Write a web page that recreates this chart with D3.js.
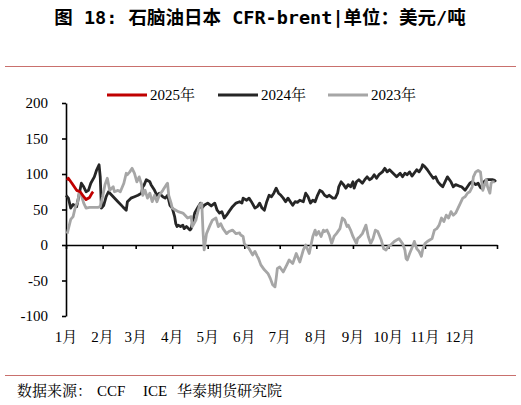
<!DOCTYPE html>
<html>
<head>
<meta charset="utf-8">
<script src="https://cdn.jsdelivr.net/npm/d3@7"></script>
<style>
  body { margin: 0; background: #fff; }
  svg { display: block; }
</style>
</head>
<body>
<div id="chart-area"></div>
<script>
// chart values (month-day, value)
var seriesNames = ["2025年", "2024年", "2023年"];
var seriesColors = ["#c00000", "#262626", "#a6a6a6"];
var monthLabels = ["1月","2月","3月","4月","5月","6月","7月","8月","9月","10月","11月","12月"];
var yTicks = [-100, -50, 0, 50, 100, 150, 200];

var s2025 = [["01-02",91],["01-03",94],["01-06",87],["01-08",82],["01-10",77],["01-13",75],
  ["01-16",68],["01-18",64],["01-21",67],["01-23",73],["01-24",75]];

var s2024 = [["01-01",70],["01-03",66],["01-05",52],["01-07",57],["01-10",54],["01-12",70],
  ["01-14",87],["01-16",82],["01-18",75],["01-20",77],["01-22",87],["01-25",96],["01-27",106],
  ["01-29",113],["01-30",96],["01-31",52],["02-02",56],["02-04",68],["02-06",75],["02-10",68],
  ["02-14",61],["02-18",54],["02-21",49],["02-22",61],["02-25",66],["02-28",68],["03-03",70],
  ["03-06",73],["03-07",82],["03-08",84],["03-10",92],["03-13",89],["03-14",85],["03-17",77],
  ["03-19",70],["03-21",73],["03-24",68],["03-26",66],["03-28",70],["03-30",56],["04-01",52],
  ["04-03",40],["04-04",30],["04-05",26],["04-06",28],["04-08",26],["04-10",28],["04-11",23],
  ["04-13",26],["04-16",21],["04-17",23],["04-18",31],["04-20",45],["04-23",54],["04-25",59],
  ["04-26",52],["04-28",56],["05-01",59],["05-04",55],["05-07",59],["05-09",49],["05-11",45],
  ["05-13",47],["05-15",38],["05-17",42],["05-19",47],["05-22",54],["05-25",59],["05-28",61],
  ["05-30",59],["05-31",66],["06-03",63],["06-05",66],["06-07",61],["06-10",52],["06-12",54],
  ["06-14",59],["06-16",52],["06-18",49],["06-20",61],["06-22",70],["06-24",68],["06-26",73],
  ["06-28",80],["06-30",73],["07-02",70],["07-04",66],["07-06",61],["07-08",66],["07-10",61],
  ["07-12",56],["07-14",61],["07-16",60],["07-18",63],["07-21",61],["07-23",73],["07-25",68],
  ["07-27",59],["07-29",63],["07-31",61],["08-02",70],["08-04",77],["08-06",75],["08-08",70],
  ["08-10",68],["08-12",70],["08-15",66],["08-17",66],["08-19",73],["08-20",82],["08-22",89],
  ["08-24",85],["08-26",80],["08-28",85],["08-30",82],["09-01",89],["09-02",80],["09-04",89],
  ["09-06",92],["09-09",87],["09-11",92],["09-13",96],["09-15",92],["09-17",94],["09-19",99],
  ["09-21",94],["09-23",99],["09-26",103],["09-28",108],["09-30",103],["10-02",106],["10-05",101],
  ["10-08",96],["10-11",101],["10-13",96],["10-15",101],["10-17",99],["10-19",103],["10-21",97],
  ["10-25",106],["10-27",103],["10-29",108],["10-30",113],["11-01",110],["11-03",106],["11-05",101],
  ["11-08",94],["11-10",96],["11-12",89],["11-14",85],["11-16",82],["11-18",89],["11-20",96],
  ["11-23",89],["11-25",82],["11-27",85],["11-30",83],["12-02",82],["12-05",77],["12-07",82],
  ["12-09",87],["12-11",89],["12-14",85],["12-16",87],["12-18",81],["12-19",80],["12-21",89],
  ["12-23",92],["12-26",92],["12-28",92],["12-30",91],["12-31",89]];

var s2023 = [["01-02",16],["01-05",36],["01-07",40],["01-09",54],["01-11",61],["01-12",73],
  ["01-14",70],["01-16",59],["01-18",52],["01-21",53],["01-24",53],["01-28",53],["01-30",54],
  ["02-01",68],["02-03",85],["02-05",94],["02-07",77],["02-10",82],["02-11",75],["02-14",77],
  ["02-16",75],["02-19",87],["02-21",101],["02-22",99],["02-24",103],["02-26",108],["02-28",101],
  ["03-02",89],["03-04",96],["03-06",85],["03-07",70],["03-09",77],["03-11",66],["03-13",73],
  ["03-15",61],["03-17",70],["03-19",61],["03-21",70],["03-24",77],["03-27",85],["03-28",87],
  ["03-29",70],["03-31",59],["04-01",52],["04-04",49],["04-06",47],["04-10",45],["04-14",38],
  ["04-17",40],["04-18",26],["04-21",35],["04-24",56],["04-26",59],["04-27",20],["04-28",-7],
  ["04-30",16],["05-03",28],["05-05",35],["05-08",38],["05-10",26],["05-12",30],["05-14",23],
  ["05-17",16],["05-19",19],["05-22",21],["05-25",16],["05-28",17],["05-29",14],["05-31",12],
  ["06-01",2],["06-03",-2],["06-05",-5],["06-08",-14],["06-10",-9],["06-12",-16],["06-13",-19],
  ["06-15",-28],["06-18",-35],["06-21",-40],["06-23",-47],["06-25",-56],["06-27",-59],["06-28",-47],
  ["06-29",-33],["07-01",-31],["07-04",-38],["07-07",-28],["07-09",-21],["07-12",-26],["07-15",-12],
  ["07-18",-24],["07-21",-7],["07-23",0],["07-26",-12],["07-29",12],["07-31",21],["08-01",14],
  ["08-03",19],["08-05",12],["08-07",21],["08-08",19],["08-10",21],["08-12",14],["08-14",2],
  ["08-16",12],["08-18",16],["08-21",23],["08-23",38],["08-25",35],["08-27",26],["08-28",28],
  ["08-30",21],["09-01",12],["09-04",2],["09-05",9],["09-07",12],["09-09",16],["09-12",28],
  ["09-14",12],["09-16",2],["09-18",9],["09-20",21],["09-22",19],["09-25",7],["09-27",-5],
  ["09-29",-7],["10-01",-2],["10-03",0],["10-06",5],["10-08",7],["10-10",9],["10-13",2],
  ["10-15",-7],["10-16",-19],["10-17",-21],["10-19",-12],["10-22",0],["10-23",5],["10-25",-5],
  ["10-27",-9],["10-29",-16],["10-30",-7],["11-01",2],["11-03",5],["11-05",7],["11-07",9],
  ["11-09",21],["11-11",23],["11-13",28],["11-15",38],["11-17",33],["11-19",42],["11-21",38],
  ["11-23",47],["11-25",42],["11-27",45],["11-29",52],["12-01",59],["12-03",66],["12-05",68],
  ["12-07",73],["12-09",75],["12-11",82],["12-12",96],["12-14",103],["12-16",105],["12-18",103],
  ["12-19",89],["12-20",77],["12-21",82],["12-23",92],["12-24",82],["12-26",73],["12-27",87],
  ["12-28",89],["12-30",89]];

var width = 521, height = 405;
var plot = {left: 66, right: 497, top: 103, bottom: 316};
var serif = "'Liberation Serif','Noto Serif CJK SC','Noto Sans CJK SC',serif";

var svg = d3.select("#chart-area")
  .append("svg")
  .attr("width", width)
  .attr("height", height);

// title and separator lines
svg.append("text")
  .attr("x", 260)
  .attr("y", 24)
  .attr("text-anchor", "middle")
  .attr("font-family", "'DejaVu Sans Mono','Noto Sans CJK SC',sans-serif")
  .attr("font-weight", "bold")
  .attr("font-size", "18.5px")
  .attr("fill", "#000")
  .text("图 18: 石脑油日本 CFR-brent|单位：美元/吨");

svg.append("line")
  .attr("x1", 5).attr("x2", 516)
  .attr("y1", 66.5).attr("y2", 66.5)
  .attr("stroke", "#c9706d").attr("stroke-width", 1.2);

svg.append("line")
  .attr("x1", 5).attr("x2", 516)
  .attr("y1", 375.5).attr("y2", 375.5)
  .attr("stroke", "#c9706d").attr("stroke-width", 1.2);

// source note
var src = svg.append("text")
  .attr("y", 396)
  .attr("font-family", serif)
  .attr("font-size", "15px")
  .attr("fill", "#000");
src.append("tspan").attr("x", 17).text("数据来源：");
src.append("tspan").attr("x", 97).text("CCF");
src.append("tspan").attr("x", 143).text("ICE");
src.append("tspan").attr("x", 177).text("华泰期货研究院");

// scales
var parseDay = d3.timeParse("%Y-%m-%d");
var x = d3.scaleTime()
  .domain([new Date(2023, 0, 1), new Date(2024, 0, 1)])
  .range([plot.left, plot.right]);

var y = d3.scaleLinear()
  .domain([-100, 200])
  .range([plot.bottom, plot.top]);

var monthStarts = d3.timeMonth.range(new Date(2023, 0, 1), new Date(2024, 0, 2));

// axes
var yAxis = d3.axisLeft(y)
  .tickValues(yTicks)
  .tickSize(4)
  .tickSizeOuter(0)
  .tickPadding(14)
  .tickFormat(function(d) { return d; });

var gy = svg.append("g")
  .attr("transform", "translate(" + plot.left + ",0)")
  .call(yAxis);
gy.selectAll("text")
  .attr("font-family", serif)
  .attr("font-size", "15px")
  .attr("fill", "#000");
gy.selectAll("line,path").attr("stroke", "#000").attr("stroke-width", 1.6);

var xAxis = d3.axisBottom(x)
  .tickValues(monthStarts)
  .tickSize(4)
  .tickSizeOuter(0)
  .tickFormat("");

var gx = svg.append("g")
  .attr("transform", "translate(0," + y(0) + ")")
  .call(xAxis);
gx.selectAll("line,path").attr("stroke", "#000").attr("stroke-width", 1.6);

svg.append("g")
  .selectAll("text")
  .data(monthLabels)
  .enter()
  .append("text")
  .attr("x", function(d, i) { return x(monthStarts[i]); })
  .attr("y", 342)
  .attr("text-anchor", "middle")
  .attr("font-family", serif)
  .attr("font-size", "15px")
  .attr("fill", "#000")
  .text(function(d) { return d; });

// lines
var line = d3.line()
  .x(function(d) { return x(parseDay("2023-" + d[0])); })
  .y(function(d) { return y(d[1]); });

var drawOrder = [[s2024, 1], [s2023, 2], [s2025, 0]];
drawOrder.forEach(function(s) {
  svg.append("path")
    .datum(s[0])
    .attr("fill", "none")
    .attr("stroke", seriesColors[s[1]])
    .attr("stroke-width", 2.8)
    .attr("stroke-linejoin", "round")
    .attr("d", line);
});

// legend
var legendX = [107, 218, 328];
var legend = svg.append("g")
  .selectAll("g")
  .data(seriesNames)
  .enter()
  .append("g")
  .attr("transform", function(d, i) { return "translate(" + legendX[i] + ",95)"; });

legend.append("line")
  .attr("x1", 0).attr("x2", 40)
  .attr("y1", 0).attr("y2", 0)
  .attr("stroke", function(d, i) { return seriesColors[i]; })
  .attr("stroke-width", 2.8);

legend.append("text")
  .attr("x", 43)
  .attr("y", 5)
  .attr("font-family", serif)
  .attr("font-size", "15px")
  .attr("fill", "#000")
  .text(function(d) { return d; });
</script>
</body>
</html>
